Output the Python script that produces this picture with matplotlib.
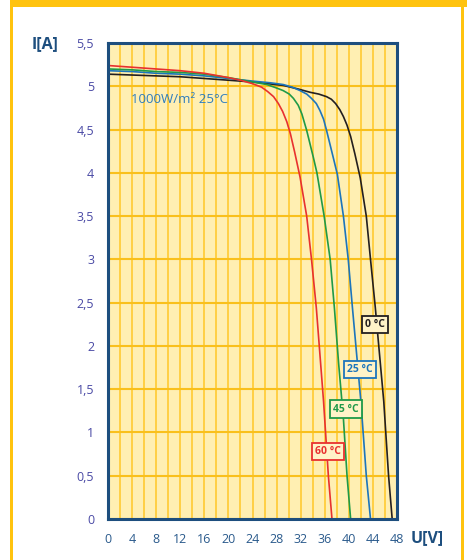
import numpy as np
import matplotlib
matplotlib.use('Agg')
import matplotlib.pyplot as plt
from matplotlib.patches import Rectangle

plt.rcParams['font.family'] = ['Open Sans', 'DejaVu Sans']

# I-V curves, U in V, I in A
u_60 = [0, 4, 8, 12, 16, 20, 22, 24, 25.5, 26.5, 27.5, 28.3, 29.0, 29.7, 30.3, 31.0,
        31.9, 33.0, 33.8, 34.6, 35.2, 35.8, 36.6, 37.2]
i_60 = [5.24, 5.22, 5.20, 5.18, 5.15, 5.10, 5.07, 5.03, 4.99, 4.94, 4.88, 4.80, 4.71, 4.59,
        4.45, 4.24, 3.95, 3.50, 3.00, 2.44, 1.90, 1.36, 0.50, 0.00]

u_45 = [0, 4, 8, 12, 16, 20, 24, 26.4, 28, 29.1, 30.1, 30.8, 31.6, 32.2, 33.0, 34.1, 34.7,
        35.9, 36.9, 37.6, 38.3, 39.1, 39.7, 40.3]
i_45 = [5.20, 5.19, 5.17, 5.16, 5.14, 5.10, 5.05, 5.02, 4.98, 4.95, 4.91, 4.86, 4.78, 4.68,
        4.49, 4.18, 4.00, 3.50, 3.00, 2.44, 1.80, 1.16, 0.50, 0.00]

u_25 = [0, 4, 8, 12, 16, 20, 24, 27, 29.1, 30.6, 31.9, 33, 33.8, 34.6, 35.2, 35.8, 36.3,
        37.4, 38.1, 39.1, 39.9, 40.6, 41.3, 42.0, 42.9, 43.6]
i_25 = [5.18, 5.17, 5.15, 5.14, 5.12, 5.09, 5.06, 5.04, 5.02, 4.99, 4.95, 4.91, 4.86, 4.80,
        4.72, 4.62, 4.49, 4.18, 3.98, 3.50, 3.00, 2.44, 1.90, 1.36, 0.50, 0.00]

u_0 = [0, 4, 8, 12, 16, 20, 24, 29.1, 31.5, 33.6, 35.0, 36.3, 37.1, 37.8, 38.5, 39.1, 39.7,
       40.3, 41.0, 41.9, 42.9, 43.6, 44.4, 45.1, 45.8, 46.6, 47.2]
i_0 = [5.14, 5.13, 5.12, 5.11, 5.09, 5.07, 5.05, 5.01, 4.97, 4.93, 4.91, 4.88, 4.85, 4.80,
       4.73, 4.65, 4.55, 4.42, 4.22, 3.94, 3.50, 3.00, 2.44, 1.90, 1.36, 0.50, 0.00]

labels = ['0 °C', '25 °C', '45 °C', '60 °C']
label_pos = [(44.3, 2.25), (41.8, 1.73), (39.5, 1.27), (36.5, 0.78)]

x_ticks = list(range(0, 49, 4))
y_ticks = [0, 0.5, 1, 1.5, 2, 2.5, 3, 3.5, 4, 4.5, 5, 5.5]
y_ticklabels = ['0', '0,5', '1', '1,5', '2', '2,5', '3', '3,5', '4', '4,5', '5', '5,5']

frame_col = '#FFC30F'
dark_blue = '#1D4E7E'

fig = plt.figure(figsize=(4.67, 5.6), dpi=100)
fig.patch.set_facecolor('white')

# yellow outer frame
fig.add_artist(Rectangle((10/467, 0), 3/467, 1, transform=fig.transFigure,
                         fc=frame_col, ec='none'))
fig.add_artist(Rectangle((461/467, 0), 3/467, 1, transform=fig.transFigure,
                         fc=frame_col, ec='none'))
fig.add_artist(Rectangle((10/467, 1 - 7/560), 1, 7/560, transform=fig.transFigure,
                         fc=frame_col, ec='none'))

ax = fig.add_axes([108/467, 1 - 519/560, 289/467, 476/560])
ax.set_facecolor('#FFEFB2')

curves = [(u_0, i_0, '#231F20'), (u_25, i_25, '#1C75BC'),
          (u_45, i_45, '#1F9A48'), (u_60, i_60, '#E8312F')]
for u, i, c in curves:
    ax.plot(u, i, color=c, lw=1.2, zorder=3, solid_joinstyle='round')

for (txt, (x, y)), (_, _, c) in zip(zip(labels, label_pos), curves):
    ax.text(x, y, txt, color=c, fontsize=7.5, fontweight='bold', ha='center', va='center',
            zorder=5, bbox=dict(boxstyle='square,pad=0.3', fc='#FFF3C8', ec=c, lw=1.3))

ax.text(3.8, 4.85, '1000W/m² 25°C', color='#2E7DBE', fontsize=9.5, va='center', zorder=4)

ax.set_xlim(0, 48)
ax.set_ylim(0, 5.5)
ax.set_xticks(x_ticks)
ax.set_xticks(np.arange(2, 48, 4), minor=True)
ax.set_yticks(y_ticks)
ax.set_yticklabels(y_ticklabels)

ax.grid(True, which='both', axis='x', color='#FFC520', lw=1.4, alpha=0.75, zorder=1)
ax.grid(True, which='major', axis='y', color='#F9C01C', lw=1.5, zorder=1)
ax.set_axisbelow(True)

ax.tick_params(axis='both', which='both', length=0)
ax.tick_params(axis='y', pad=10, labelsize=9, labelcolor='#4A4AA5')
ax.tick_params(axis='x', pad=10, labelsize=9, labelcolor='#2A5A8C')

for s in ax.spines.values():
    s.set_color(dark_blue)
    s.set_linewidth(2.2)
    s.set_zorder(6)

fig.text(45/467, 1 - 44/560, 'I[A]', color=dark_blue, fontsize=11.5, fontweight='bold',
         ha='center', va='center')
fig.text(427/467, 1 - 538/560, 'U[V]', color=dark_blue, fontsize=11.5, fontweight='bold',
         ha='center', va='center')

fig.savefig('out.png', dpi=100)
